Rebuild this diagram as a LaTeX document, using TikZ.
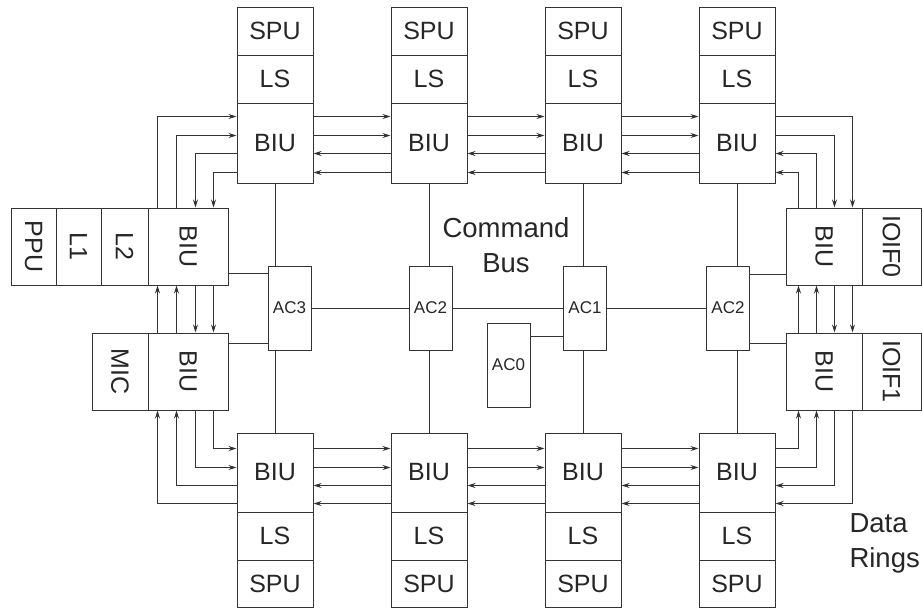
\documentclass[tikz,border=0pt]{standalone}
\usepackage{fontspec}
\setmainfont{Liberation Sans}
\usepackage{graphicx}
\usepackage{tikz}
\usetikzlibrary{arrows.meta,calc}
\newcommand{\rotl}[1]{\rotatebox{-90}{#1}}

\begin{document}
\begin{tikzpicture}[x=1pt, y=-1pt, line width=1pt,
  blk/.style={draw=black!80, inner sep=0pt, text=black!85,
              font=\fontsize{25}{30}\selectfont},
  acb/.style={draw=black!80, inner sep=0pt, text=black!85,
              minimum width=43, minimum height=84,
              font=\fontsize{17}{20}\selectfont},
  lbl/.style={inner sep=0pt, text=black!85,
              font=\fontsize{27.5}{35}\selectfont},
  ln/.style={draw=black!80},
  arr/.style={ln, -{Stealth[length=8pt, width=5pt]}}]
\useasboundingbox (0,0) rectangle (923,608);
% SPU columns, top and bottom
\foreach \i/\x in {1/275,2/429,3/583,4/737} {
  \node[blk, minimum width=76, minimum height=48] (ts\i) at (\x,31) {SPU};
  \node[blk, minimum width=76, minimum height=48] (tl\i) at (\x,79) {LS};
  \node[blk, minimum width=76, minimum height=80] (tb\i) at (\x,143) {BIU};
  \node[blk, minimum width=76, minimum height=79] (bb\i) at (\x,472.5) {BIU};
  \node[blk, minimum width=76, minimum height=48] (bl\i) at (\x,536) {LS};
  \node[blk, minimum width=76, minimum height=47] (bs\i) at (\x,583.5) {SPU};
}
% PPU and MIC side
\node[blk, minimum width=45, minimum height=77] (ppu) at (33.5,246.5) {\rotl{PPU}};
\node[blk, minimum width=45, minimum height=77] (lone) at (78.5,246.5) {\rotl{L1}};
\node[blk, minimum width=47, minimum height=77] (ltwo) at (124.5,246.5) {\rotl{L2}};
\node[blk, minimum width=80, minimum height=77] (lb0) at (188,246.5) {\rotl{BIU}};
\node[blk, minimum width=56, minimum height=77] (mic) at (120,371.5) {\rotl{MIC}};
\node[blk, minimum width=80, minimum height=77] (lb1) at (188,371.5) {\rotl{BIU}};
% IOIF side
\node[blk, minimum width=76, minimum height=77] (rb0) at (824,246.5) {\rotl{BIU}};
\node[blk, minimum width=59, minimum height=77] (ioif0) at (891.5,246.5) {\rotl{IOIF0}};
\node[blk, minimum width=76, minimum height=77] (rb1) at (824,371.5) {\rotl{BIU}};
\node[blk, minimum width=59, minimum height=77] (ioif1) at (891.5,371.5) {\rotl{IOIF1}};
% address concentrators
\node[acb] (ac3) at (289.5,308) {AC3};
\node[acb] (ac2) at (430.5,308) {AC2};
\node[acb] (ac1) at (585,308) {AC1};
\node[acb] (acr) at (728,308) {AC2};
\node[acb] (ac0) at (508.5,365) {AC0};
\node[lbl, align=center] (cmd) at (506,245) {Command\\Bus};
\node[lbl, align=left, anchor=north west] (rings) at (849,513) {Data\\Rings};
% command bus
\foreach \i/\a in {1/ac3,2/ac2,3/ac1,4/acr} {
  \draw[ln] (tb\i.south) -- (tb\i.south |- \a.north);
  \draw[ln] (bb\i.north) -- (bb\i.north |- \a.south);
}
\draw[ln] (ac3.east) -- (ac2.west);
\draw[ln] (ac2.east) -- (ac1.west);
\draw[ln] (ac1.east) -- (acr.west);
\draw[ln] ([yshift=-14]ac0.north east) -- ([yshift=-14]ac0.north east -| ac1.west);
\draw[ln] ([yshift=-8]ac3.north west) -- ([yshift=-8]ac3.north west -| lb0.east);
\draw[ln] ([yshift=7]ac3.south west) -- ([yshift=7]ac3.south west -| lb1.east);
\draw[ln] ([yshift=-9]acr.north east) -- ([yshift=-9]acr.north east -| rb0.west);
\draw[ln] ([yshift=7]acr.south east) -- ([yshift=7]acr.south east -| rb1.west);
% data rings, top and bottom rows
\foreach \i/\j in {1/2,2/3,3/4} {
  \foreach \d in {14,33}
    \draw[arr] ([yshift=-\d]tb\i.north east) -- ([yshift=-\d]tb\j.north west);
  \foreach \d in {51,70}
    \draw[arr] ([yshift=-\d]tb\j.north west) -- ([yshift=-\d]tb\i.north east);
  \foreach \d in {16,35}
    \draw[arr] ([yshift=-\d]bb\i.north east) -- ([yshift=-\d]bb\j.north west);
  \foreach \d in {53,71}
    \draw[arr] ([yshift=-\d]bb\j.north west) -- ([yshift=-\d]bb\i.north east);
}
% data rings, left side
\draw[arr] ([xshift=10]lb0.north west) |- ([yshift=-14]tb1.north west);
\draw[arr] ([xshift=29]lb0.north west) |- ([yshift=-33]tb1.north west);
\draw[arr] ([yshift=-51]tb1.north west) -| ([xshift=48]lb0.north west);
\draw[arr] ([yshift=-70]tb1.north west) -| ([xshift=66]lb0.north west);
\foreach \d in {10,29}
  \draw[arr] ([xshift=\d]lb1.north west) -- ([xshift=\d]lb0.south west);
\foreach \d in {48,66}
  \draw[arr] ([xshift=\d]lb0.south west) -- ([xshift=\d]lb1.north west);
\draw[arr] ([xshift=66]lb1.south west) |- ([yshift=-16]bb1.north west);
\draw[arr] ([xshift=48]lb1.south west) |- ([yshift=-35]bb1.north west);
\draw[arr] ([yshift=-53]bb1.north west) -| ([xshift=29]lb1.south west);
\draw[arr] ([yshift=-71]bb1.north west) -| ([xshift=10]lb1.south west);
% data rings, right side
\draw[arr] ([yshift=-14]tb4.north east) -| ([xshift=67]rb0.north west);
\draw[arr] ([yshift=-33]tb4.north east) -| ([xshift=49]rb0.north west);
\draw[arr] ([xshift=31]rb0.north west) |- ([yshift=-51]tb4.north east);
\draw[arr] ([xshift=13]rb0.north west) |- ([yshift=-70]tb4.north east);
\foreach \d in {13,31}
  \draw[arr] ([xshift=\d]rb1.north west) -- ([xshift=\d]rb0.south west);
\foreach \d in {49,67}
  \draw[arr] ([xshift=\d]rb0.south west) -- ([xshift=\d]rb1.north west);
\draw[arr] ([yshift=-16]bb4.north east) -| ([xshift=13]rb1.south west);
\draw[arr] ([yshift=-35]bb4.north east) -| ([xshift=31]rb1.south west);
\draw[arr] ([xshift=49]rb1.south west) |- ([yshift=-53]bb4.north east);
\draw[arr] ([xshift=67]rb1.south west) |- ([yshift=-71]bb4.north east);
\end{tikzpicture}
\end{document}
